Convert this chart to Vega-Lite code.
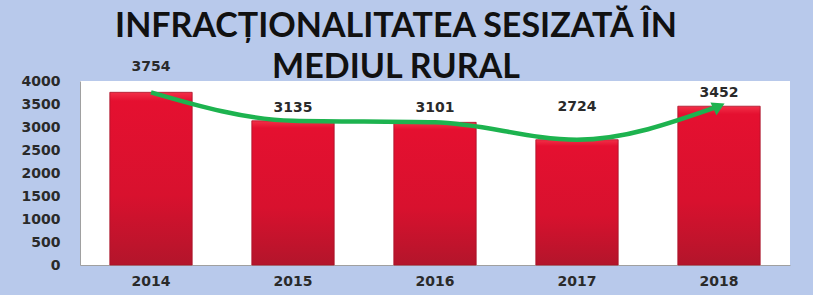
{
  "$schema": "https://vega.github.io/schema/vega-lite/v6.json",
  "width": 710,
  "height": 184,
  "autosize": "none",
  "padding": {"left": 80, "top": 81, "right": 23, "bottom": 30},
  "background": "#B8C9EB",
  "config": {"view": {"stroke": null, "fill": "white"}},
  "title": {
    "text": ["INFRACȚIONALITATEA SESIZATĂ ÎN", "MEDIUL RURAL"],
    "font": "Lato",
    "fontSize": 34,
    "fontWeight": "bold",
    "color": "#111111",
    "lineHeight": 41,
    "anchor": "middle",
    "dx": -39,
    "offset": -25
  },
  "data": {
    "values": [
      {"year": "2014", "value": 3754},
      {"year": "2015", "value": 3135},
      {"year": "2016", "value": 3101},
      {"year": "2017", "value": 2724},
      {"year": "2018", "value": 3452}
    ]
  },
  "encoding": {
    "x": {
      "field": "year",
      "type": "ordinal",
      "title": null,
      "scale": {"paddingInner": 0.42, "paddingOuter": 0.21},
      "axis": {
        "labelAngle": 0,
        "ticks": false,
        "labelPadding": 9,
        "domainColor": "#A0A0A0",
        "labelFont": "DejaVu Sans",
        "labelFontWeight": "bold",
        "labelFontSize": 14,
        "labelColor": "#2a2a2a"
      }
    },
    "y": {
      "field": "value",
      "type": "quantitative",
      "title": null,
      "scale": {"domain": [0, 4000], "nice": false},
      "axis": {
        "values": [0, 500, 1000, 1500, 2000, 2500, 3000, 3500, 4000],
        "format": "d",
        "grid": false,
        "ticks": false,
        "labelPadding": 20,
        "domainColor": "#A0A0A0",
        "labelFont": "DejaVu Sans",
        "labelFontWeight": "bold",
        "labelFontSize": 14,
        "labelColor": "#2a2a2a"
      }
    }
  },
  "layer": [
    {
      "mark": {
        "type": "bar",
        "color": {
          "gradient": "linear",
          "x1": 0, "y1": 0, "x2": 0, "y2": 1,
          "stops": [
            {"offset": 0, "color": "#F23048"},
            {"offset": 0.05, "color": "#E51030"},
            {"offset": 0.6, "color": "#D8112E"},
            {"offset": 1, "color": "#B3152B"}
          ]
        },
        "stroke": "#A8132A",
        "strokeWidth": 0.8
      }
    },
    {
      "mark": {"type": "line", "interpolate": "monotone", "color": "#1DB34F", "strokeWidth": 4.5}
    },
    {
      "transform": [{"filter": "datum.year == '2018'"}],
      "mark": {"type": "point", "shape": "triangle-right", "filled": true, "opacity": 1, "color": "#1DB34F", "size": 200, "angle": -25}
    },
    {
      "transform": [{"filter": "datum.year == '2015' || datum.year == '2018'"}],
      "mark": {"type": "text", "font": "DejaVu Sans", "fontWeight": "bold", "fontSize": 14, "color": "#2a2a2a", "baseline": "middle", "dy": -13},
      "encoding": {"text": {"field": "value", "type": "quantitative", "format": "d"}}
    },
    {
      "transform": [{"filter": "datum.year == '2016'"}],
      "mark": {"type": "text", "font": "DejaVu Sans", "fontWeight": "bold", "fontSize": 14, "color": "#2a2a2a", "baseline": "middle", "dy": -14},
      "encoding": {"text": {"field": "value", "type": "quantitative", "format": "d"}}
    },
    {
      "transform": [{"filter": "datum.year == '2014'"}],
      "mark": {"type": "text", "font": "DejaVu Sans", "fontWeight": "bold", "fontSize": 14, "color": "#2a2a2a", "baseline": "middle", "dy": -25},
      "encoding": {"text": {"field": "value", "type": "quantitative", "format": "d"}}
    },
    {
      "transform": [{"filter": "datum.year == '2017'"}],
      "mark": {"type": "text", "font": "DejaVu Sans", "fontWeight": "bold", "fontSize": 14, "color": "#2a2a2a", "baseline": "middle", "dy": -33},
      "encoding": {"text": {"field": "value", "type": "quantitative", "format": "d"}}
    }
  ]
}
